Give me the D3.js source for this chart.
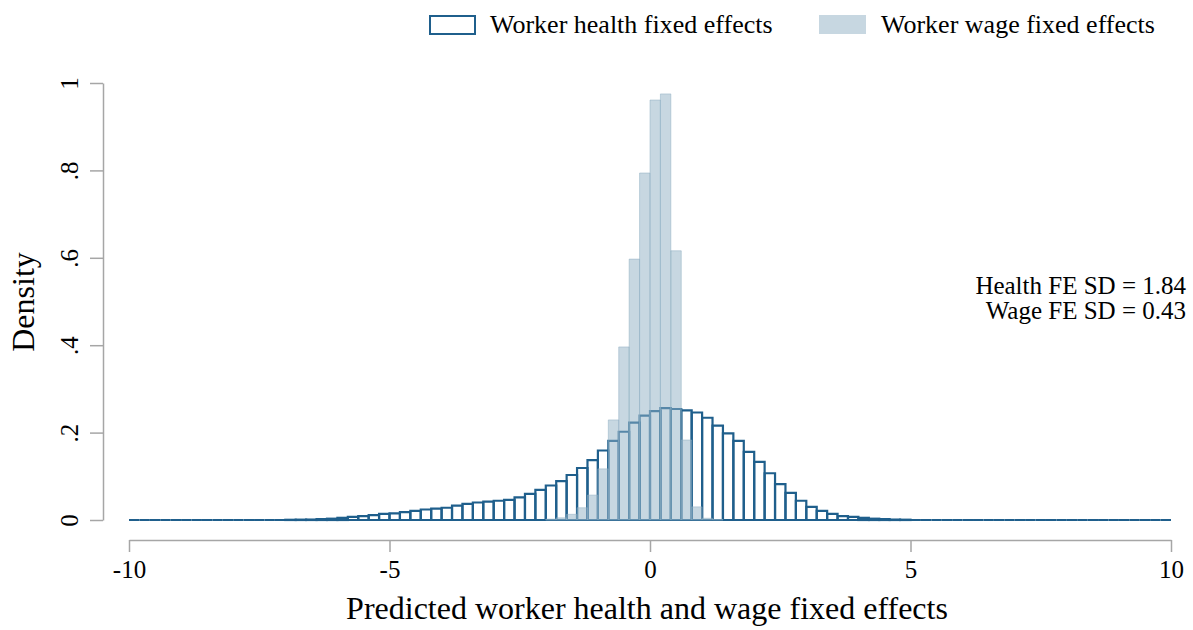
<!DOCTYPE html>
<html>
<head>
<meta charset="utf-8">
<script src="https://cdn.jsdelivr.net/npm/d3@7"></script>
<style>
  body { margin: 0; background: #fff; }
  svg { display: block; font-family: "Liberation Serif", "Times New Roman", serif; }
</style>
</head>
<body>
<svg class="chart"></svg>
<script>
var width = 1193;
var height = 630;

// histogram bins, width 0.2, first bin starts at the given value
var binWidth = 0.2;
var healthStart = -10;
var healthDensity = [
    0, 0, 0, 0, 0, 0, 0, 0, 0, 0,
    0, 0, 0, 0, 0,
    0.0005, 0.0008, 0.001, 0.002, 0.003, 0.005, 0.007, 0.009, 0.011, 0.014,
    0.015, 0.018, 0.021, 0.024, 0.026, 0.028, 0.033, 0.037, 0.040, 0.042,
    0.044, 0.046, 0.052, 0.060, 0.069, 0.079, 0.089, 0.103, 0.119, 0.137,
    0.159, 0.181, 0.202, 0.223, 0.239, 0.249, 0.256, 0.254, 0.251, 0.246,
    0.234, 0.216, 0.198, 0.181, 0.156, 0.133, 0.107, 0.082, 0.062, 0.044,
    0.030, 0.021, 0.014, 0.009, 0.007, 0.005, 0.003, 0.002, 0.001, 0.0007,
    0, 0, 0, 0, 0, 0, 0, 0, 0, 0,
    0, 0, 0, 0, 0, 0, 0, 0, 0, 0,
    0, 0, 0, 0, 0
];
var wageStart = -2;
var wageDensity = [
    0.002, 0.005, 0.013, 0.028, 0.057, 0.117, 0.229, 0.396, 0.597, 0.794,
    0.961, 0.975, 0.616, 0.183, 0.030, 0.004, 0.001
];

var xTicks = [-10, -5, 0, 5, 10];
var yTicks = [0, 0.2, 0.4, 0.6, 0.8, 1];
var legendLabels = ["Worker health fixed effects", "Worker wage fixed effects"];
var noteLines = ["Health FE SD = 1.84", "Wage FE SD = 0.43"];

var healthColor = "#1f5f8c";
var wageColor = "rgb(143,175,195)";
var axisColor = "#a6a6a6";
var serif = "Liberation Serif, Times New Roman, serif";

var x = d3.scaleLinear().domain([-10, 10]).range([129, 1171]);
var y = d3.scaleLinear().domain([0, 1]).range([520, 83]);

var chart = d3.select(".chart")
    .attr("width", width)
    .attr("height", height);

function toBins(start, values) {
    return values.map(function(v, i) {
        var x0 = start + i * binWidth;
        return { x0: x0, x1: x0 + binWidth, d: v };
    });
}

// paths instead of rects so zero-height bins still show their outline
function barPath(b) {
    var l = x(b.x0), r = x(b.x1), t = y(b.d), bot = y(0);
    return "M" + l + "," + bot + "V" + t + "H" + r + "V" + bot + "Z";
}

chart.append("g")
    .selectAll("path.health")
    .data(toBins(healthStart, healthDensity))
    .enter()
    .append("path")
    .attr("class", "health")
    .attr("d", barPath)
    .attr("fill", "none")
    .attr("stroke", healthColor)
    .attr("stroke-width", 2.2);

chart.append("g")
    .selectAll("path.wage")
    .data(toBins(wageStart, wageDensity))
    .enter()
    .append("path")
    .attr("class", "wage")
    .attr("d", barPath)
    .attr("fill", wageColor)
    .attr("fill-opacity", 0.5)
    .attr("stroke", wageColor)
    .attr("stroke-opacity", 0.5)
    .attr("stroke-width", 1);

// y axis
var yAxis = chart.append("g")
    .attr("transform", "translate(103,0)")
    .call(d3.axisLeft(y)
        .tickValues(yTicks)
        .tickSize(13)
        .tickSizeOuter(0)
        .tickFormat(function(d) {
            if (d === 0) return "0";
            if (d === 1) return "1";
            return d3.format(".1f")(d).replace("0.", ".");
        }));

yAxis.selectAll("text")
    .attr("x", 0)
    .attr("y", -25)
    .attr("dy", 0)
    .attr("text-anchor", "middle")
    .attr("transform", "rotate(-90)")
    .attr("fill", "#000")
    .style("font-family", serif)
    .style("font-size", "25px");

// x axis
var xAxis = chart.append("g")
    .attr("transform", "translate(0,540)")
    .call(d3.axisBottom(x)
        .tickValues(xTicks)
        .tickSize(12)
        .tickSizeOuter(0)
        .tickPadding(8)
        .tickFormat(function(d) { return String(d); }));

xAxis.selectAll("text")
    .attr("fill", "#000")
    .style("font-family", serif)
    .style("font-size", "25px");

chart.selectAll(".domain, .tick line")
    .attr("stroke", axisColor)
    .attr("stroke-width", 1.5);

// axis titles
chart.append("text")
    .attr("transform", "translate(34,302) rotate(-90)")
    .attr("text-anchor", "middle")
    .style("font-size", "32px")
    .text("Density");

chart.append("text")
    .attr("x", 647)
    .attr("y", 619)
    .attr("text-anchor", "middle")
    .style("font-size", "32px")
    .text("Predicted worker health and wage fixed effects");

// SD note
chart.append("g")
    .selectAll("text")
    .data(noteLines)
    .enter()
    .append("text")
    .attr("x", 1186)
    .attr("y", function(d, i) { return 294 + i * 25; })
    .attr("text-anchor", "end")
    .style("font-size", "25px")
    .text(function(d) { return d; });

// legend
var legend = chart.append("g");

legend.append("rect")
    .attr("x", 430).attr("y", 16)
    .attr("width", 45).attr("height", 18)
    .attr("fill", "none")
    .attr("stroke", healthColor)
    .attr("stroke-width", 2);

legend.append("rect")
    .attr("x", 819).attr("y", 15)
    .attr("width", 47).attr("height", 19)
    .attr("fill", wageColor)
    .attr("fill-opacity", 0.5);

legend.selectAll("text")
    .data(legendLabels)
    .enter()
    .append("text")
    .attr("x", function(d, i) { return i === 0 ? 490 : 881; })
    .attr("y", 33)
    .style("font-size", "26px")
    .text(function(d) { return d; });
</script>
</body>
</html>
